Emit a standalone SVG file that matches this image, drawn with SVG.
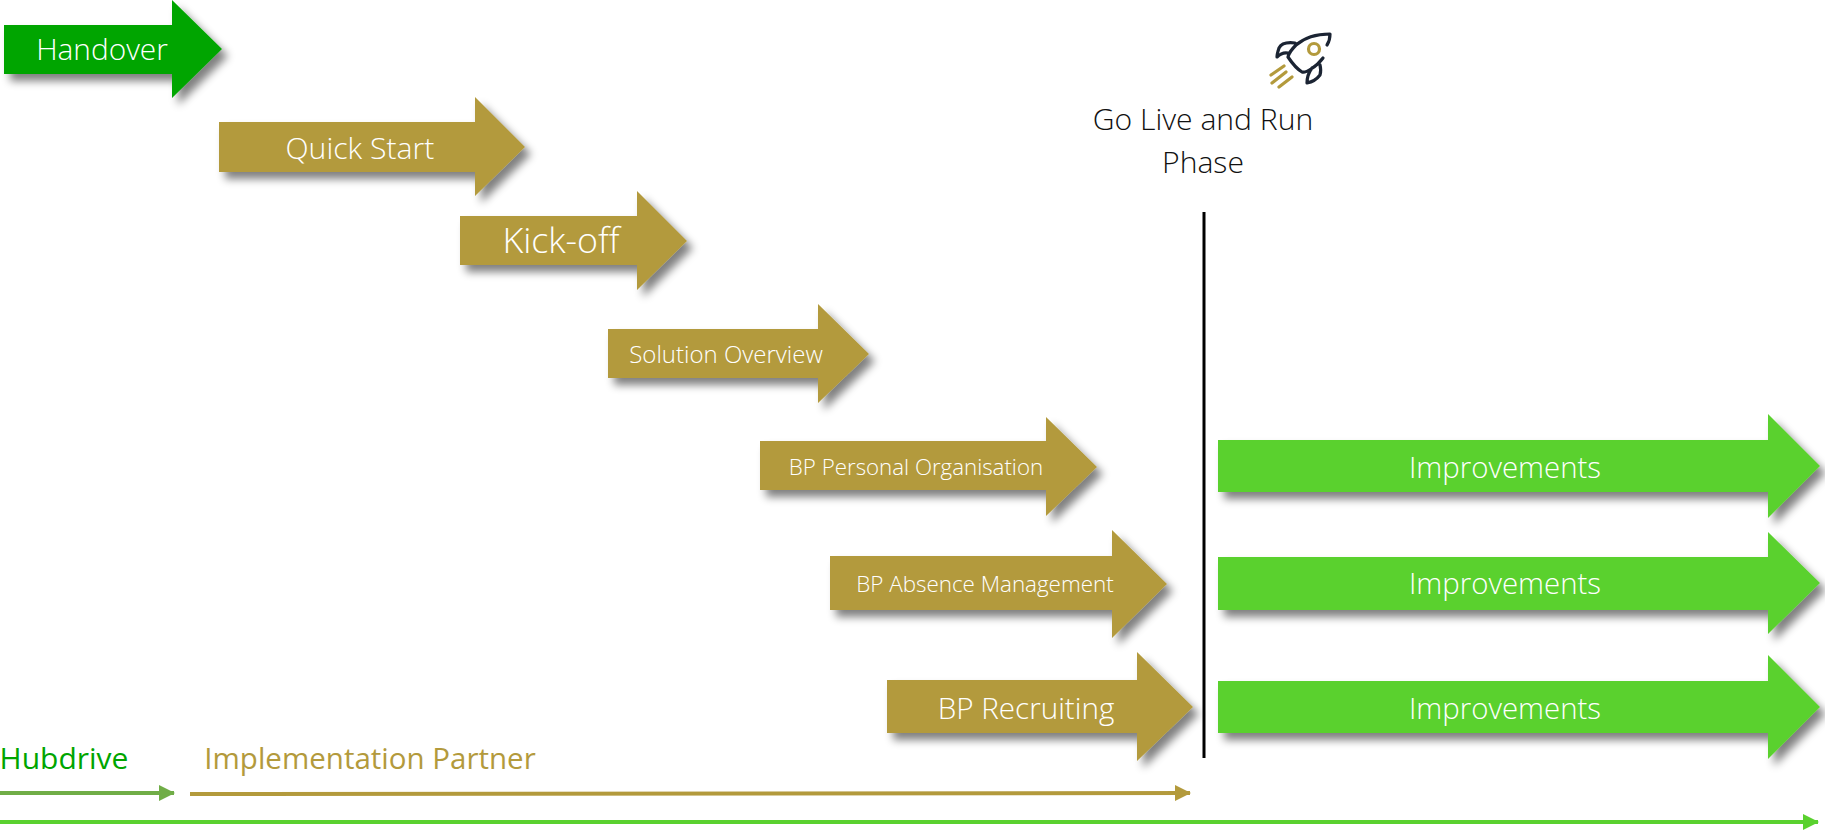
<svg xmlns="http://www.w3.org/2000/svg" width="1825" height="830" viewBox="0 0 1825 830">
<style>
text{font-family:"Open Sans","Noto Sans","Liberation Sans",sans-serif;font-weight:300;text-anchor:middle}
.w{fill:#fff}
.g{fill:#b39a3c}.lg{fill:#5ad12f}.dg{fill:#00a500}
.a{filter:url(#sh)}
.r{font-weight:400}
</style>
<defs>
<filter id="sh" x="-10%" y="-20%" width="125%" height="150%"><feGaussianBlur in="SourceAlpha" stdDeviation="4"/><feOffset dx="6" dy="7"/><feComponentTransfer><feFuncA type="linear" slope="0.5"/></feComponentTransfer><feMerge><feMergeNode/><feMergeNode in="SourceGraphic"/></feMerge></filter>
<marker id="mh" markerUnits="userSpaceOnUse" markerWidth="16" markerHeight="16" refX="15" refY="8" orient="auto"><path d="M0 0L16 8L0 16Z" fill="#70ad47"/></marker>
<marker id="mi" markerUnits="userSpaceOnUse" markerWidth="16" markerHeight="16" refX="15" refY="8" orient="auto"><path d="M0 0L16 8L0 16Z" fill="#b39a3c"/></marker>
<marker id="ml" markerUnits="userSpaceOnUse" markerWidth="16" markerHeight="16" refX="15" refY="8" orient="auto"><path d="M0 0L16 8L0 16Z" fill="#5ad12f"/></marker>
</defs>
<g id="handover"><path class="dg a" d="M4 25H172V0L222 49L172 98V74H4Z"/><text class="w" x="102" y="60" font-size="29.800">Handover</text></g>
<g id="quick-start"><path class="g a" d="M219 122H475V97L525 147L475 196V172H219Z"/><text class="w" x="360" y="159" font-size="30.200">Quick Start</text></g>
<g id="kick-off"><path class="g a" d="M460 216H637V191L687 241L637 290V265H460Z"/><text class="w" x="561" y="253" font-size="35.800">Kick-off</text></g>
<g id="solution-overview"><path class="g a" d="M608 329H818V304L869 354L818 403V378H608Z"/><text class="w" x="726" y="363" font-size="24">Solution Overview</text></g>
<g id="bp-personal"><path class="g a" d="M760 441H1046V417L1097 467L1046 516V490H760Z"/><text class="w" x="916" y="475" font-size="22.300">BP Personal Organisation</text></g>
<g id="bp-absence"><path class="g a" d="M830 556H1112V530L1167 584L1112 638V610H830Z"/><text class="w" x="985" y="592" font-size="22.400">BP Absence Management</text></g>
<g id="bp-recruiting"><path class="g a" d="M887 680H1137V652L1193 707L1137 761V733H887Z"/><text class="w" x="1026" y="719" font-size="29.600">BP Recruiting</text></g>
<g id="improvements-1"><path class="lg a" d="M1218 440H1768V414L1820 466L1768 518V492H1218Z"/><text class="w" x="1505" y="478" font-size="29.400">Improvements</text></g>
<g id="improvements-2"><path class="lg a" d="M1218 557H1768V532L1820 583L1768 634V610H1218Z"/><text class="w" x="1505" y="594" font-size="29.400">Improvements</text></g>
<g id="improvements-3"><path class="lg a" d="M1218 681H1768V655L1820 707L1768 759V733H1218Z"/><text class="w" x="1505" y="719" font-size="29.400">Improvements</text></g>
<g id="go-live">
<g id="rocket" fill="none" stroke-linecap="round" stroke-linejoin="round" stroke-width="3.200">
<path stroke="#1b2433" d="M1330 34C1314 34 1304 38 1296 45C1292 49 1289 52 1288 57C1292 63 1297 69 1302 72C1305 73 1308 71 1311 69C1316 66 1320 62 1323 58M1330 34C1330 38 1329 42 1327 45M1295 43C1287 42 1281 44 1279 48C1278 51 1277 54 1277 57C1280 54 1283 52 1288 53M1320 65C1321 69 1321 72 1320 75C1317 79 1312 82 1307 83C1307 78 1309 72 1312 68"/>
<circle stroke="#b39a3c" cx="1314" cy="49" r="5.500"/>
<path stroke="#b39a3c" d="M1271 75L1284 66M1272 83L1286 72M1279 87L1292 77"/>
</g>
<text x="1203" y="130" font-size="30.100" fill="#111">Go Live and Run</text><text x="1203" y="173" font-size="30.100" fill="#111">Phase</text></g>
<g id="labels"><text class="r" x="64" y="769" font-size="30" fill="#00a500">Hubdrive</text><text class="r" x="370" y="769" font-size="29.500" fill="#b39a3c">Implementation Partner</text></g>
<g id="connectors" fill="none">
<path d="M1204 212V758" stroke="#000" stroke-width="3"/>
<path d="M0 793H174" stroke="#70ad47" stroke-width="4" marker-end="url(#mh)"/>
<path d="M190 794L1190 793" stroke="#b39a3c" stroke-width="4" marker-end="url(#mi)"/>
<path d="M0 822H1818" stroke="#5ad12f" stroke-width="4" marker-end="url(#ml)"/>
</g>
</svg>
